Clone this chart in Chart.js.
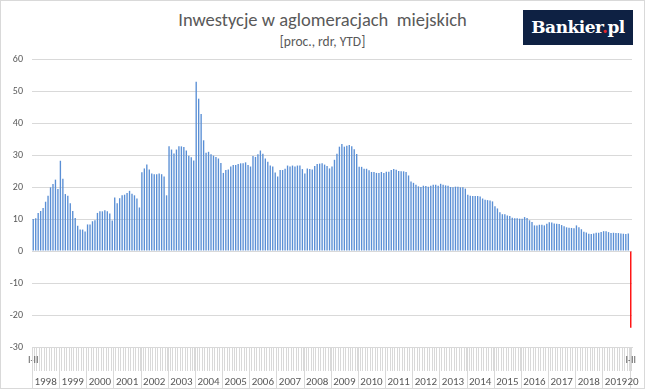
<!DOCTYPE html>
<html lang="pl">
<head>
  <meta charset="UTF-8">
  <title>Inwestycje w aglomeracjach miejskich</title>
  <style>
    html, body { margin: 0; padding: 0; background: #fff; }
    .frame {
      position: relative;
      width: 643px;
      height: 387px;
      border: 1px solid #d9d9d9;
      font-family: Carlito, Calibri, Lato, sans-serif;
      color: #595959;
    }
    .title { position: absolute; left: 0; right: 0; top: 7px; text-align: center; font-size: 18.5px; white-space: pre; }
    .subtitle { position: absolute; left: 0; right: 0; top: 32px; text-align: center; font-size: 13.5px; }
    .logo {
      position: absolute; left: 522px; top: 9px; width: 110px; height: 35px;
      background: #0e2143; color: #fff;
      font-family: 'DejaVu Serif', serif; font-weight: bold; font-size: 17px;
      line-height: 35px; text-align: center; letter-spacing: -0.5px;
    }
    .logo span { color: #e3262b; }
    canvas { position: absolute; left: 0; top: 0; }
  </style>
</head>
<body>

<div class="frame">
  <div class="title">Inwestycje w aglomeracjach  miejskich</div>
  <div class="subtitle">[proc., rdr, YTD]</div>
  <div class="logo">Bankier<span>.</span>pl</div>
  <canvas id="chart" width="643" height="387"></canvas>
</div>

<script src="https://cdn.jsdelivr.net/npm/chart.js"></script>
<script>
  // okresy narastające (YTD), 11 na rok; 2020 tylko I-II
  const periods = ['I-II', 'I-III', 'I-IV', 'I-V', 'I-VI', 'I-VII', 'I-VIII', 'I-IX', 'I-X', 'I-XI', 'I-XII'];
  const years = [1998, 1999, 2000, 2001, 2002, 2003, 2004, 2005, 2006, 2007, 2008,
                 2009, 2010, 2011, 2012, 2013, 2014, 2015, 2016, 2017, 2018, 2019, 2020];
  const lastYearPeriods = 1;

  // dynamika r/r w proc., kolejno rok po roku
  const values = [
    10.0, 10.2, 11.9, 12.5, 13.4, 15.4, 17.3, 19.9, 20.9, 22.3, 19.4,   // 1998
    28.2, 22.6, 17.8, 17.3, 14.9, 12.5, 10.3, 7.9, 6.7, 6.7, 6.1,       // 1999
    8.3, 8.3, 9.3, 9.6, 11.9, 12.4, 12.4, 12.7, 12.4, 11.7, 9.5,        // 2000
    16.7, 14.9, 16.5, 17.4, 17.6, 18.1, 18.8, 17.9, 17.4, 16.4, 13.6,   // 2001
    24.6, 25.8, 27.0, 25.5, 24.2, 24.0, 24.0, 24.2, 24.0, 23.3, 17.4,   // 2002
    32.7, 31.7, 30.5, 31.7, 32.7, 32.7, 32.5, 31.4, 29.8, 29.3, 28.3,   // 2003
    52.9, 47.6, 42.8, 34.6, 30.7, 31.0, 30.2, 29.8, 29.4, 28.9, 27.5,   // 2004
    24.4, 25.3, 25.5, 26.4, 26.9, 26.9, 27.2, 27.4, 27.4, 27.7, 26.9,   // 2005
    26.4, 29.7, 29.4, 30.2, 31.4, 30.4, 28.9, 27.9, 26.7, 26.4, 24.5,   // 2006
    23.3, 25.3, 25.3, 25.7, 26.7, 26.4, 26.7, 26.4, 26.7, 26.7, 25.6,   // 2007
    24.2, 25.8, 25.6, 25.5, 26.6, 27.2, 27.3, 27.4, 27.0, 26.6, 25.8,   // 2008
    26.4, 28.5, 30.4, 32.6, 33.4, 32.6, 32.9, 33.1, 32.7, 31.8, 30.3,   // 2009
    26.3, 26.3, 25.7, 25.7, 25.2, 24.7, 24.7, 24.4, 24.4, 24.7, 24.4,   // 2010
    24.8, 24.8, 25.3, 25.6, 25.4, 25.0, 24.9, 24.9, 24.7, 23.6, 21.7,   // 2011
    21.3, 20.7, 20.2, 20.0, 20.4, 20.3, 20.1, 20.4, 20.7, 20.7, 20.4,   // 2012
    21.0, 20.7, 20.5, 20.4, 20.0, 19.9, 20.1, 20.1, 19.9, 19.9, 19.5,   // 2013
    17.6, 17.3, 17.2, 17.2, 17.2, 17.0, 16.4, 16.0, 15.9, 15.8, 15.5,   // 2014
    14.0, 13.3, 12.1, 11.5, 11.5, 11.1, 10.9, 10.4, 10.2, 10.2, 10.1,   // 2015
    10.1, 10.6, 10.3, 9.6, 9.1, 8.0, 8.0, 8.2, 8.2, 8.0, 8.5,           // 2016
    9.0, 8.9, 8.6, 8.5, 8.4, 8.1, 7.7, 7.4, 7.3, 7.2, 7.1,              // 2017
    8.0, 7.4, 6.8, 6.0, 5.8, 5.4, 5.3, 5.5, 5.7, 5.7, 5.9,              // 2018
    6.2, 6.2, 5.9, 5.6, 5.7, 5.6, 5.6, 5.5, 5.4, 5.3, 5.5,              // 2019
    -24.0                                                               // 2020
  ];

  const yMin = -30, yMax = 60, yStep = 10;

  const FONT = 'Carlito, Calibri, Lato, sans-serif';
  const GRID = '#d9d9d9';
  const TEXT = '#595959';

  const labels = [];
  years.forEach((yr, k) => {
    const n = k === years.length - 1 ? lastYearPeriods : periods.length;
    for (let i = 0; i < n; i++) labels.push(periods[i]);
  });

  const colors = values.map((v, i) => i === values.length - 1 ? '#ff0000' : '#5a8fd5');

  // drugi poziom osi: lata
  const yearRow = {
    id: 'yearRow',
    afterDraw(chart) {
      const xs = chart.scales.x;
      const ctx = chart.ctx;
      const half = (xs.getPixelForValue(1) - xs.getPixelForValue(0)) / 2;
      const top = chart.chartArea.bottom;
      const bottom = chart.height;
      ctx.save();
      ctx.strokeStyle = GRID;
      ctx.lineWidth = 1;
      ctx.fillStyle = TEXT;
      ctx.font = '11px ' + FONT;
      ctx.textBaseline = 'middle';
      let start = 0;
      let right = 0;
      years.forEach((yr, k) => {
        const n = k === years.length - 1 ? lastYearPeriods : periods.length;
        const left = xs.getPixelForValue(start) - half;
        right = xs.getPixelForValue(start + n - 1) + half;
        const lx = Math.round(left) + 0.5;
        ctx.beginPath();
        ctx.moveTo(lx, top);
        ctx.lineTo(lx, bottom);
        ctx.stroke();
        const txt = String(yr);
        if (ctx.measureText(txt).width > right - left + 4) {
          // za wąsko - Excel obcina etykietę
          ctx.textAlign = 'left';
          ctx.fillText(txt.slice(2), left - 2, 381);
        } else {
          ctx.textAlign = 'center';
          ctx.fillText(txt, (left + right) / 2, 381);
        }
        start += n;
      });
      ctx.restore();
    }
  };

  const ctx = document.getElementById('chart').getContext('2d');
  new Chart(ctx, {
    type: 'bar',
    data: {
      labels: labels,
      datasets: [{
        data: values,
        backgroundColor: colors,
        barPercentage: 0.55,
        categoryPercentage: 1.0
      }]
    },
    options: {
      responsive: false,
      animation: false,
      devicePixelRatio: 1,
      layout: { padding: { top: 58, right: 12, left: 0, bottom: 0 } },
      plugins: {
        legend: { display: false },
        tooltip: { enabled: false }
      },
      scales: {
        x: {
          afterFit(axis) { axis.height = 41; },
          grid: {
            offset: true,
            drawOnChartArea: false,
            tickLength: 24,
            color: GRID
          },
          border: { display: true, color: GRID },
          ticks: {
            autoSkip: false,
            maxRotation: 0,
            minRotation: 0,
            padding: -17,
            color: TEXT,
            font: { family: FONT, size: 10 },
            callback: function(value, index) {
              return (index === 0 || index === labels.length - 1) ? this.getLabelForValue(value) : '';
            }
          }
        },
        y: {
          min: yMin,
          max: yMax,
          afterFit(axis) { axis.width = 31; },
          grid: { color: GRID, drawTicks: false },
          border: { display: false },
          ticks: {
            stepSize: yStep,
            padding: 9,
            color: TEXT,
            font: { family: FONT, size: 10 }
          }
        }
      }
    },
    plugins: [yearRow]
  });
</script>

</body>
</html>
